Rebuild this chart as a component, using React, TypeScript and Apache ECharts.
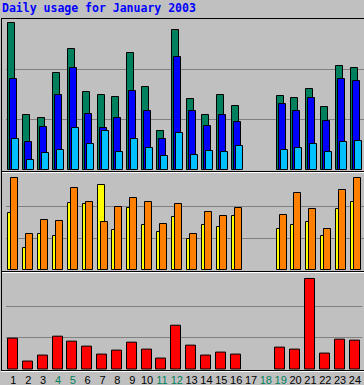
import React, { useEffect, useRef } from "react";
import * as echarts from "echarts";

const days = ["1","2","3","4","5","6","7","8","9","10","11","12","13","14","15","16","17","18","19","20","21","22","23","24"];
const weekendDays = ["4","5","11","12","18","19"];
const hits = [147,55,52,97,121,78,75,73,117,83,39,140,71,55,75,64,0,0,74,72,81,63,104,102];
const files = [91,28,43,75,102,56,42,52,79,59,31,113,59,44,55,48,0,0,66,59,72,49,91,89];
const pages = [31,10,17,20,42,26,39,18,31,22,14,37,15,19,18,24,0,0,20,22,26,18,28,29];
const visits = [57,22,36,34,67,66,85,40,62,45,38,53,31,45,43,54,0,0,41,45,48,34,61,68];
const sites = [92,36,50,49,82,68,48,63,72,68,46,66,36,58,54,62,0,0,55,77,61,41,80,92];
const kbytes = [31,8,14,33,28,23,15,19,27,20,11,44,24,14,17,15,0,0,22,20,91,16,30,29];

const TITLE = "Daily usage for January 2003";

function barSeries(data: number[], idx: number, off: number, w: number, color: string, z: number) {
  return {
    type: "custom",
    xAxisIndex: idx,
    yAxisIndex: idx,
    z,
    data: data.map((v, i) => [i, v]),
    renderItem: (params: any, api: any) => {
      const v = api.value(1);
      if (!(v > 0)) return null;
      const i = api.value(0);
      const top = api.coord([i, v]);
      const base = api.coord([i, 0]);
      const band = api.size([1, 0])[0];
      const start = base[0] - band / 2;
      return {
        type: "rect",
        shape: { x: Math.round(start) + off + 0.5, y: top[1], width: w, height: base[1] - top[1] },
        style: { fill: color, stroke: "#000", lineWidth: 1 },
      };
    },
  };
}

function hline(x: number, y: number, w: number, color: string) {
  return { type: "rect", z: 50, shape: { x, y, width: w, height: 1 }, style: { fill: color } };
}
function vline(x: number, y: number, h: number, color: string) {
  return { type: "rect", z: 50, shape: { x, y, width: 1, height: h }, style: { fill: color } };
}

export default function App() {
  const ref = useRef<HTMLDivElement>(null);
  useEffect(() => {
    document.body.style.margin = "0";
    const chart = echarts.init(ref.current!, undefined, { renderer: "svg" });
    const grids = [
      { left: 6, width: 360, top: 19.5, height: 150 },
      { left: 6, width: 360, top: 175, height: 94.5 },
      { left: 6, width: 360, top: 275, height: 94.5 },
    ];
    const yMax = [150, 94.5, 94.5];
    const yInt = [50, 31.5, 31.5];
    const option: any = {
      animation: false,
      backgroundColor: "#C0C0C0",
      grid: grids,
      xAxis: grids.map((g, k) => ({
        type: "category",
        gridIndex: k,
        data: days,
        boundaryGap: true,
        axisLine: { show: false },
        axisTick: { show: false },
        splitLine: { show: false },
        axisLabel: k === 2 ? {
          show: true,
          interval: 0,
          margin: 5,
          fontSize: 11,
          fontFamily: "Liberation Sans",
          color: (val: string) => (weekendDays.includes(val) ? "#00805C" : "#000000"),
        } : { show: false },
      })),
      yAxis: grids.map((g, k) => ({
        type: "value",
        gridIndex: k,
        min: 0,
        max: yMax[k],
        interval: yInt[k],
        axisLine: { show: false },
        axisTick: { show: false },
        axisLabel: { show: false },
        splitLine: { show: true, showMinLine: false, showMaxLine: false, lineStyle: { color: "#808080", width: 1 } },
      })),
      series: [
        barSeries(hits, 0, 1, 7, "#00805C", 3),
        barSeries(files, 0, 3, 7, "#0000FF", 4),
        barSeries(pages, 0, 5, 7, "#00C0FF", 5),
        barSeries(visits, 1, 1, 7, "#FFFF00", 3),
        barSeries(sites, 1, 4, 7, "#FF8000", 4),
        barSeries(kbytes, 2, 1, 10, "#FF0000", 3),
      ],
      graphic: [
        {
          type: "text",
          left: 2,
          top: 2,
          z: 60,
          style: { text: TITLE, fill: "#0000FF", font: "bold 11.5px 'DejaVu Sans Mono'" },
        },
        hline(1, 18, 363, "#000"),
        vline(1, 18, 353, "#000"),
        hline(2, 171, 362, "#000"),
        hline(2, 172, 362, "#FFF"),
        hline(2, 271, 362, "#000"),
        hline(2, 272, 362, "#FFF"),
        hline(1, 370, 363, "#000"),
        hline(1, 371, 363, "#FFF"),
      ],
    };
    chart.setOption(option);
    return () => chart.dispose();
  }, []);
  return <div ref={ref} style={{ position: "fixed", left: 0, top: 0, width: 364, height: 385 }} />;
}
